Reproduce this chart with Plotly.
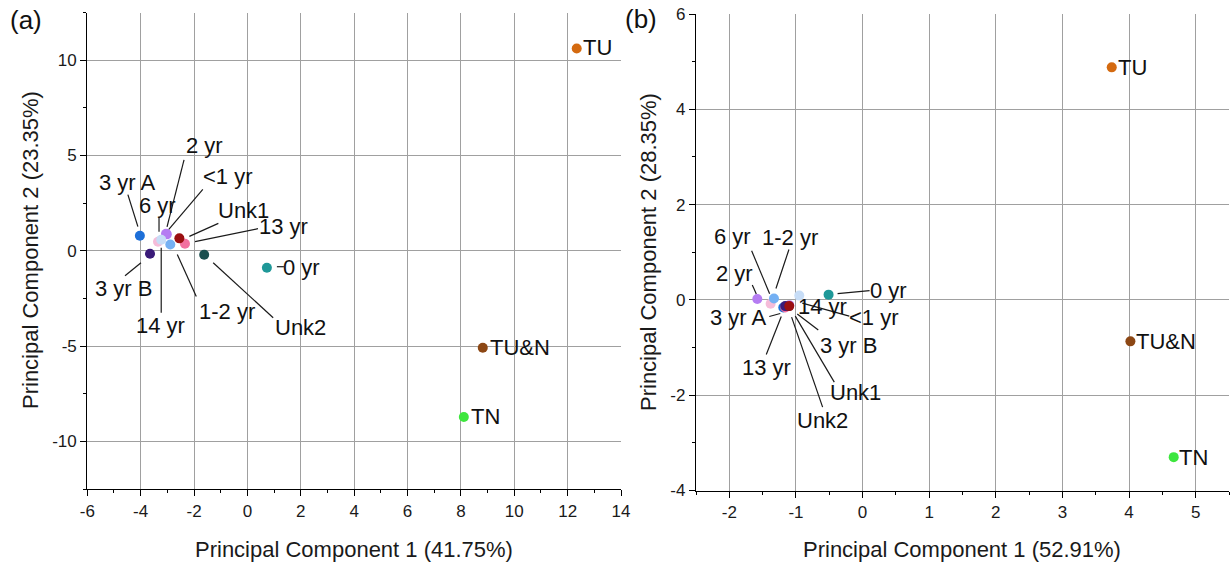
import plotly.graph_objects as go

# ---------------- data ----------------
# Panel (a): PCA scores
samples_a = ["<1 yr", "TU", "TU&N", "TN", "0 yr", "Unk2", "3 yr A", "3 yr B",
             "2 yr", "6 yr", "14 yr", "1-2 yr", "13 yr", "Unk1"]
pc1_a = [-3.02, 12.34, 8.82, 8.11, 0.73, -1.62, -4.03, -3.65,
         -3.05, -3.35, -3.23, -2.89, -2.34, -2.55]
pc2_a = [0.86, 10.61, -5.09, -8.72, -0.89, -0.21, 0.79, -0.16,
         0.89, 0.47, 0.58, 0.33, 0.37, 0.65]

# Panel (b): PCA scores
samples_b = ["3 yr A", "13 yr", "Unk2", "<1 yr", "3 yr B", "Unk1", "6 yr",
             "1-2 yr", "2 yr", "14 yr", "0 yr", "TU", "TU&N", "TN"]
pc1_b = [-1.19, -1.16, -1.11, -1.10, -1.16, -1.10, -1.38,
         -1.33, -1.58, -0.95, -0.51, 3.74, 4.02, 4.67]
pc2_b = [-0.16, -0.16, -0.13, -0.11, -0.13, -0.13, -0.08,
         0.03, 0.02, 0.09, 0.11, 4.88, -0.87, -3.30]

# axis ticks
xticks_a = [-6, -4, -2, 0, 2, 4, 6, 8, 10, 12, 14]
yticks_a = [-10, -5, 0, 5, 10]
xticks_b = [-2, -1, 0, 1, 2, 3, 4, 5]
yticks_b = [-4, -2, 0, 2, 4, 6]

sample_colors = {
    "TU": "#d46a10", "TU&N": "#8c4714", "TN": "#3ee63e",
    "0 yr": "#1f9898", "Unk2": "#1b4f4f", "3 yr A": "#1d6fd8",
    "3 yr B": "#3a1a78", "2 yr": "#b57cf2", "6 yr": "#f5bcd9",
    "14 yr": "#c7ddf7", "1-2 yr": "#74b0f3", "13 yr": "#f2709f",
    "Unk1": "#9a0f10", "<1 yr": "#b57cf2",
}

# label placement: text offset (dx, dy) and optional leader segment
# (x0, y0, x1, y1), all in screen pixels relative to the marker (y down)
labels_a = {
    "TU": ((21, -1), None),
    "TU&N": ((37, 0), None),
    "TN": ((22, 0), None),
    "0 yr": ((35, 0), (10, -1, 17, -1)),
    "3 yr A": ((-12, -53), (-2, -9, -12, -41)),
    "6 yr": ((-1, -36), (1, -10, 1, -24)),
    "2 yr": ((38, -88), (1, -7, 18, -74)),
    "<1 yr": ((61, -58), (2, -5, 36, -45)),
    "Unk1": ((64, -28), (10, -2, 39, -15)),
    "13 yr": ((99, -17), (10, -2, 73, -15)),
    "1-2 yr": ((57, 67), (7, 10, 26, 52)),
    "Unk2": ((96, 73), (9, 8, 69, 63)),
    "3 yr B": ((-27, 35), (-9, 9, -25, 22)),
    "14 yr": ((-1, 86), (0, 8, 0, 73)),
}
labels_b = {
    "TU": ((21, 0), None),
    "TU&N": ((36, 0), None),
    "TN": ((20, 0), None),
    "0 yr": ((60, -4), (9, -1, 41, -4)),
    "14 yr": ((23, 11), None),
    "2 yr": ((-23, -25), (-1, -5, -5, -14)),
    "1-2 yr": ((16, -61), (2, -10, 15, -49)),
    "6 yr": ((-38, -67), (-1, -10, -19, -53)),
    "3 yr A": ((-45, 10), (-3, 6, -14, 9)),
    "13 yr": ((-19, 60), (-4, 9, -19, 47)),
    "3 yr B": ((63, 39), (12, 8, 33, 24)),
    "Unk1": ((66, 86), (6, 10, 45, 76)),
    "Unk2": ((34, 114), (3, 11, 34, 101)),
    "<1 yr": ((85, 12), (13, -2, 60, 11)),
}

FONT = "Liberation Sans, Arial, sans-serif"
W, H = 1230, 567


def tick_text(vals):
    # plain hyphen-minus for negative tick labels
    return [str(v) for v in vals]


fig = go.Figure()

panels = [
    (samples_a, pc1_a, pc2_a, labels_a, "x", "y"),
    (samples_b, pc1_b, pc2_b, labels_b, "x2", "y2"),
]

shapes = []
annotations = []
for names, xs, ys, labels, xr, yr in panels:
    fig.add_trace(go.Scatter(
        x=xs, y=ys, mode="markers", xaxis=xr, yaxis=yr,
        marker=dict(size=10, color=[sample_colors[n] for n in names],
                    line=dict(width=0)),
        text=names, hoverinfo="text", showlegend=False,
    ))
    for n, x, y in zip(names, xs, ys):
        (dx, dy), seg = labels[n]
        annotations.append(dict(
            x=x, y=y, xref=xr, yref=yr, text=n, showarrow=False,
            xanchor="center", yanchor="middle", xshift=dx, yshift=-dy,
            font=dict(family=FONT, size=22, color="#111111"),
        ))
        if seg is not None:
            x0, y0, x1, y1 = seg
            shapes.append(dict(
                type="line", xref=xr, yref=yr,
                xsizemode="pixel", ysizemode="pixel",
                xanchor=x, yanchor=y,
                x0=x0, x1=x1, y0=-y0, y1=-y1,
                line=dict(color="#1a1a1a", width=1.2),
            ))

axis_common = dict(
    showline=True, linecolor="black", linewidth=1.3,
    ticks="outside", ticklen=6, tickwidth=1.3, tickcolor="black",
    showgrid=True, gridcolor="#a0a0a0", gridwidth=1.2,
    zeroline=False, mirror=False, automargin=False,
    tickfont=dict(family=FONT, size=17, color="#1a1a1a"),
)


def minor(step):
    return dict(ticks="outside", ticklen=3, dtick=step, tick0=0,
                tickcolor="black", tickwidth=1.3, showgrid=False)


fig.update_layout(
    width=W, height=H,
    margin=dict(l=0, r=0, t=0, b=0, pad=0, autoexpand=False),
    paper_bgcolor="white", plot_bgcolor="white",
    xaxis=dict(axis_common, domain=[87.3 / W, 621 / W], range=[-6, 14],
               tickmode="array", tickvals=xticks_a,
               ticktext=tick_text(xticks_a), anchor="y", minor=minor(1)),
    yaxis=dict(axis_common, domain=[1 - 489 / H, 1 - 12.5 / H],
               range=[-12.5, 12.5], tickmode="array", tickvals=yticks_a,
               ticktext=tick_text(yticks_a), anchor="x", minor=minor(2.5)),
    xaxis2=dict(axis_common, domain=[696 / W, 1229 / W], range=[-2.5, 5.5],
                tickmode="array", tickvals=xticks_b,
                ticktext=tick_text(xticks_b), anchor="y2", minor=minor(0.5)),
    yaxis2=dict(axis_common, domain=[1 - 490.5 / H, 1 - 14 / H],
                range=[-4, 6], tickmode="array", tickvals=yticks_b,
                ticktext=tick_text(yticks_b), anchor="x2", minor=minor(1)),
    shapes=shapes,
)

title_font = dict(family=FONT, size=22, color="#1a1a1a")
annotations += [
    dict(text="Principal Component 1 (41.75%)", x=354 / W, y=1 - 549 / H,
         xref="paper", yref="paper", showarrow=False, font=title_font,
         xanchor="center", yanchor="middle"),
    dict(text="Principal Component 1 (52.91%)", x=962 / W, y=1 - 549 / H,
         xref="paper", yref="paper", showarrow=False, font=title_font,
         xanchor="center", yanchor="middle"),
    dict(text="Principal Component 2 (23.35%)", x=30 / W, y=1 - 250 / H,
         xref="paper", yref="paper", showarrow=False, font=title_font,
         textangle=-90, xanchor="center", yanchor="middle"),
    dict(text="Principal Component 2 (28.35%)", x=648 / W, y=1 - 252 / H,
         xref="paper", yref="paper", showarrow=False, font=title_font,
         textangle=-90, xanchor="center", yanchor="middle"),
    dict(text="(a)", x=26 / W, y=1 - 20 / H, xref="paper", yref="paper",
         showarrow=False, font=dict(family=FONT, size=26, color="#111111"),
         xanchor="center", yanchor="middle"),
    dict(text="(b)", x=641 / W, y=1 - 19 / H, xref="paper", yref="paper",
         showarrow=False, font=dict(family=FONT, size=26, color="#111111"),
         xanchor="center", yanchor="middle"),
]
fig.update_layout(annotations=annotations)

fig.write_html("out.html")
